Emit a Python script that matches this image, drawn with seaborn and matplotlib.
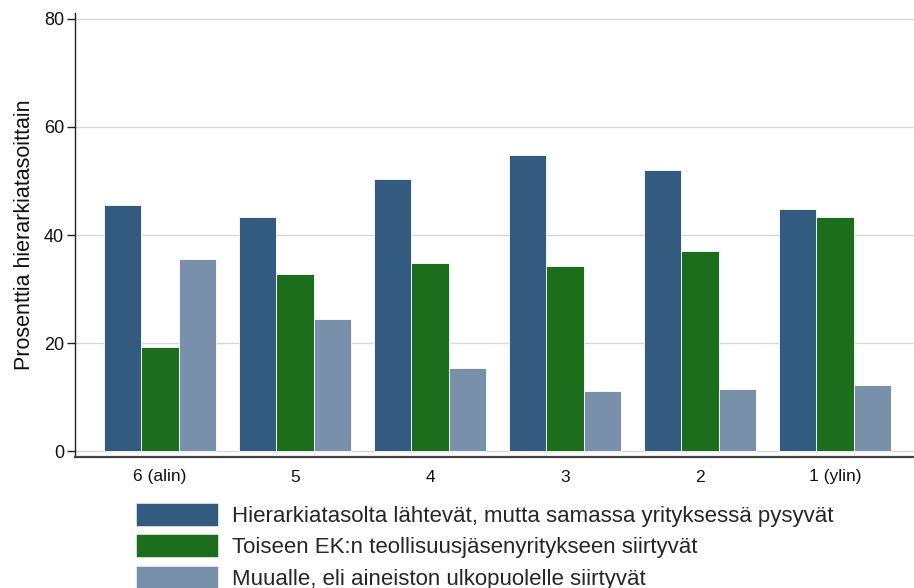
import numpy as np
import pandas as pd
import matplotlib
matplotlib.use("Agg")
import matplotlib.pyplot as plt
import seaborn as sns

# Hierarkiatasot ja sarjat
tasot = ["6 (alin)", "5", "4", "3", "2", "1 (ylin)"]
sarjat = [
    "Hierarkiatasolta lähtevät, mutta samassa yrityksessä pysyvät",
    "Toiseen EK:n teollisuusjäsenyritykseen siirtyvät",
    "Muualle, eli aineiston ulkopuolelle siirtyvät",
]
pysyvat = [45.6, 43.3, 50.3, 54.8, 52.0, 44.8]
ek_siirtyvat = [19.2, 32.7, 34.8, 34.3, 37.0, 43.3]
muualle = [35.5, 24.4, 15.3, 11.2, 11.4, 12.2]
y_ticks = [0, 20, 40, 60, 80]

varit = ["#335a7f", "#1c6e1c", "#7890aa"]

# Pitkä taulu seabornia varten
df = pd.DataFrame({
    "taso": tasot * 3,
    "sarja": np.repeat(sarjat, len(tasot)),
    "arvo": pysyvat + ek_siirtyvat + muualle,
})

sns.set_theme(style="white")
plt.rcParams["font.family"] = ["Liberation Sans", "DejaVu Sans"]

fig = plt.figure(figsize=(9.14, 5.88), dpi=100)
ax = fig.add_axes([75 / 914, 1 - 457 / 588, (914 - 75) / 914, (457 - 13) / 588])

sns.barplot(data=df, x="taso", y="arvo", hue="sarja", order=tasot,
            hue_order=sarjat, palette=varit, saturation=1, width=0.83, ax=ax,
            edgecolor="white", linewidth=0.6, legend=False)

ax.set_xlim(-0.63, 5.585)
ax.set_ylim(-1.1, 81.1)
ax.set_yticks(y_ticks)
ax.yaxis.grid(True, color="#d9d9d9", linewidth=1.0)
ax.set_axisbelow(True)

# Akselit Stata-tyyliin
for s in ["top", "right"]:
    ax.spines[s].set_visible(False)
ax.spines["left"].set_color("#222222")
ax.spines["bottom"].set_color("#444444")
ax.spines["left"].set_linewidth(1.0)
ax.spines["bottom"].set_linewidth(1.6)
ax.tick_params(axis="y", left=True, length=6, width=1, color="#222222",
               labelsize=13, labelcolor="#111111", pad=2)
ax.tick_params(axis="x", bottom=False, labelsize=12.5, labelcolor="#111111", pad=3)
ax.set_xlabel("")
ax.set_ylabel("Prosenttia hierarkiatasoittain", fontsize=15.5, color="#111111", labelpad=6)

# Selite kuvan alle
kahvat = [plt.Rectangle((0, 0), 1, 1, facecolor=c, edgecolor="white", linewidth=0.4)
          for c in varit]
fig.legend(kahvat, sarjat, loc="upper left", bbox_to_anchor=(136 / 914, 1 - 503 / 588),
           frameon=False, fontsize=16, handlelength=3.7, handleheight=1.2,
           handletextpad=0.63, labelspacing=0.34, borderaxespad=0, borderpad=0)

fig.savefig("out.png", dpi=100)
